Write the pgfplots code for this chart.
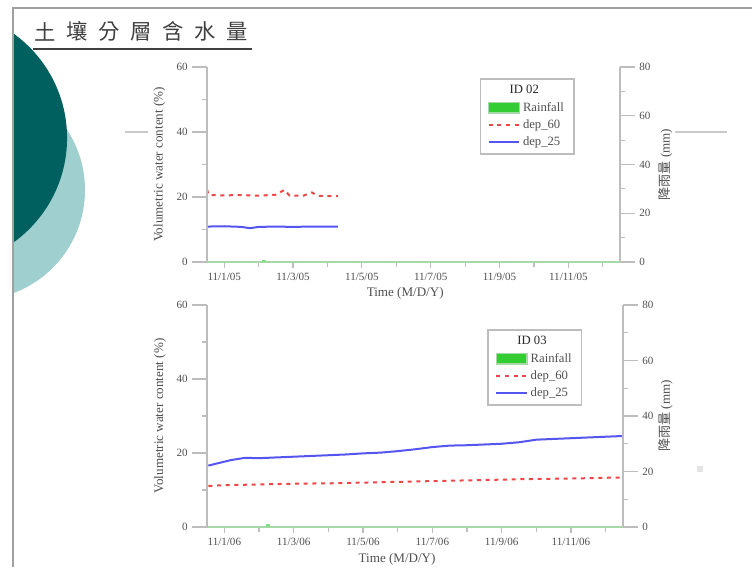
\documentclass[border=0pt]{standalone}
\usepackage{fontspec}
\setmainfont{Liberation Serif}
\newfontfamily\cjk{Noto Sans CJK TC}
\usepackage{pgfplots}
\pgfplotsset{compat=1.18}
\definecolor{teal1}{HTML}{005F5F}
\definecolor{teal2}{HTML}{9FCFCF}
\definecolor{axgray}{HTML}{BDBDBD}
\definecolor{bordergray}{HTML}{A0A0A0}
\definecolor{txtgray}{HTML}{505050}
\definecolor{titlegray}{HTML}{404040}
\definecolor{rainfill}{HTML}{33CC33}
\definecolor{rainline}{HTML}{A8D8A8}
\definecolor{redline}{HTML}{F04545}
\definecolor{blueline}{HTML}{5555F0}

\pgfplotsset{
  base/.style={
    scale only axis, anchor=south west,
    xmin=-0.5, xmax=11.5, ymin=0,
    axis line style={axgray, line width=1.5pt, -},
    tick align=outside,
    tick style={axgray, line width=0.9pt},
    tick label style={font=\fontsize{8.3}{9}\selectfont, text=txtgray},
    label style={font=\fontsize{9.8}{11}\selectfont, text=txtgray},
    /pgf/number format/assume math mode=true,
  },
  xpart/.style={base, hide y axis, axis x line*=bottom, ymax=60,
    xtick={0,2,...,10}, minor xtick={1,3,...,11},
    major tick length=4.5pt, minor tick length=4pt},
  ypartL/.style={base, hide x axis, axis y line*=left, ymax=60,
    ytick={0,20,40,60}, minor ytick={10,30,50},
    major tick length=11pt, minor tick length=4pt,
    ylabel={Volumetric water content (\%)}},
  ypartR/.style={base, hide x axis, axis y line*=right, ymax=80, clip=false,
    ytick={0,20,40,60,80}, minor ytick={10,30,50,70},
    major tick length=11pt, minor tick length=4pt,
    ylabel={{\cjk 降雨量} (mm)},
    legend style={draw=axgray, line width=1.2pt, font=\fontsize{9.5}{10.5}\selectfont,
      text=txtgray, cells={anchor=west}, row sep=0.8pt, inner ysep=3pt, inner xsep=5.5pt},
    legend image code/.code={\draw[#1] (0pt,0pt) -- (23pt,0pt);}},
  redsty/.style={redline, line width=1.5pt, dash pattern=on 3pt off 3.5pt},
  bluesty/.style={blueline, line width=1.5pt},
}

\begin{document}
\begin{tikzpicture}
\useasboundingbox (0,0) rectangle (564pt,425.25pt);
\fill[white] (0,0) rectangle (564pt,425.25pt);
\begin{scope}
\clip (10.5pt,0) rectangle (564pt,418.5pt);
\fill[teal2] (-18.75pt,282.75pt) circle (82.5pt);
\fill[teal1] (-46.1pt,321.75pt) circle (96.4pt);
\end{scope}
\draw[bordergray, line width=1.5pt] (9.4pt,0) -- (9.4pt,419.25pt) -- (564pt,419.25pt);
\foreach \c [count=\i from 0] in {土,壤,分,層,含,水,量} {
  \node[font=\cjk\fontsize{16}{16}\selectfont, text=titlegray, inner sep=0pt] at ({(45+32*\i)*0.75pt}, 401.6pt) {\c};
}
\draw[titlegray, line width=1.5pt] (24.75pt,388.5pt) -- (189pt,388.5pt);
\draw[axgray!80, line width=1.5pt] (93.75pt,326.25pt) -- (111pt,326.25pt);
\draw[axgray!80, line width=1.5pt] (506.25pt,326.25pt) -- (545.25pt,326.25pt);
\fill[axgray!40] (523pt,71.5pt) rectangle (527pt,75.5pt);

% ---------- top chart ----------
\begin{axis}[xpart, at={(155.25pt,228.75pt)}, width=309.75pt, height=146.25pt,
  xticklabels={11/1/05,11/3/05,11/5/05,11/7/05,11/9/05,11/11/05},
  xlabel={Time (M/D/Y)},
  x label style={at={(axis description cs:0.48,-0.105)}, anchor=north}]
\addplot[redsty] coordinates {(-0.5,22.3) (-0.45,20.6) (0,20.5) (0.5,20.6) (1.0,20.4) (1.5,20.7) (1.75,22.2) (1.9,20.4) (2.3,20.4) (2.55,21.4) (2.7,20.4) (3.0,20.3) (3.3,20.3)};
\addplot[bluesty] coordinates {(-0.5,10.9) (0,11.0) (0.5,10.8) (0.75,10.4) (1.0,10.8) (1.5,10.9) (2.0,10.8) (2.5,10.9) (3.0,10.9) (3.3,10.9)};
\end{axis}
\begin{axis}[ypartL, at={(155.25pt,228.75pt)}, width=309.75pt, height=146.25pt,
  y label style={at={(axis description cs:-0.115,0.5)}, anchor=center}]
\end{axis}
\begin{axis}[ypartR, at={(155.25pt,228.75pt)}, width=309.75pt, height=146.25pt,
  y label style={at={(axis description cs:1.11,0.5)}, anchor=center},
  legend style={at={(0.775,0.944)}, anchor=north}]
\addlegendimage{empty legend}
\addlegendentry{\hspace*{-10pt}\textcolor{black!85}{ID 02}}
\addplot[rainline, line width=1.5pt, forget plot] coordinates {(-0.5,0) (11.5,0)};
\addplot[ybar, bar width=3pt, fill=rainfill!60, draw=none,
  legend image code/.code={\draw[fill=rainfill, draw=rainline, line width=1pt] (0pt,-4pt) rectangle (23pt,4pt);}]
  coordinates {(1.16,1.0)};
\addlegendentry{Rainfall}
\addlegendimage{redsty}
\addlegendentry{dep\_60}
\addlegendimage{bluesty}
\addlegendentry{dep\_25}
\end{axis}

% ---------- bottom chart ----------
\begin{axis}[xpart, at={(155.25pt,30pt)}, width=312pt, height=166.5pt,
  xticklabels={11/1/06,11/3/06,11/5/06,11/7/06,11/9/06,11/11/06},
  xlabel={Time (M/D/Y)},
  x label style={at={(axis description cs:0.457,-0.1)}, anchor=north}]
\addplot[redsty] coordinates {(-0.46,11.1) (0,11.3) (1,11.5) (2,11.7) (3,11.8) (4,12.0) (5,12.2) (6,12.4) (7,12.6) (8,12.8) (9,13.0) (10,13.1) (11,13.3) (11.5,13.4)};
\addplot[bluesty] coordinates {(-0.46,16.6) (-0.2,17.2) (0.2,18.1) (0.6,18.7) (1.0,18.6) (1.5,18.8) (2.0,19.0) (2.5,19.2) (3.0,19.4) (3.5,19.6) (4.0,19.9) (4.5,20.1) (5.0,20.5) (5.5,21.0) (6.0,21.6) (6.5,22.0) (7.0,22.1) (7.5,22.3) (8.0,22.5) (8.5,22.9) (9.0,23.6) (9.5,23.8) (10.0,24.0) (10.5,24.2) (11.0,24.4) (11.5,24.6)};
\end{axis}
\begin{axis}[ypartL, at={(155.25pt,30pt)}, width=312pt, height=166.5pt,
  y label style={at={(axis description cs:-0.113,0.5)}, anchor=center}]
\end{axis}
\begin{axis}[ypartR, at={(155.25pt,30pt)}, width=312pt, height=166.5pt,
  y label style={at={(axis description cs:1.103,0.5)}, anchor=center},
  legend style={at={(0.788,0.892)}, anchor=north}]
\addlegendimage{empty legend}
\addlegendentry{\hspace*{-10pt}\textcolor{black!85}{ID 03}}
\addplot[rainline, line width=1.5pt, forget plot] coordinates {(-0.46,0) (11.5,0)};
\addplot[ybar, bar width=3pt, fill=rainfill!60, draw=none,
  legend image code/.code={\draw[fill=rainfill, draw=rainline, line width=1pt] (0pt,-4pt) rectangle (23pt,4pt);}]
  coordinates {(1.26,1.0)};
\addlegendentry{Rainfall}
\addlegendimage{redsty}
\addlegendentry{dep\_60}
\addlegendimage{bluesty}
\addlegendentry{dep\_25}
\end{axis}
\end{tikzpicture}
\end{document}
